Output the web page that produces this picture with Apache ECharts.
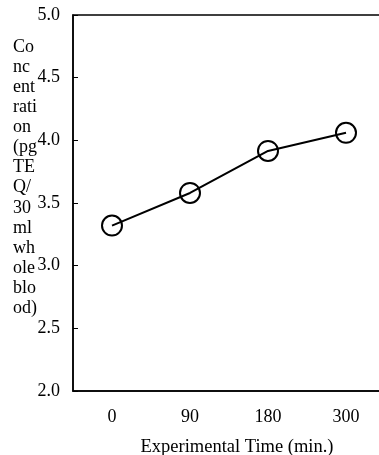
<!DOCTYPE html>
<html>
<head>
<meta charset="utf-8">
<script src="https://cdn.jsdelivr.net/npm/echarts@6/dist/echarts.min.js"></script>
<style>
  html, body { margin: 0; padding: 0; background: #fff; }
  #chart { width: 379px; height: 455px; }
</style>
</head>
<body>
<div id="chart"></div>
<script>
  const categories = ["0", "90", "180", "300"];
  const concentration = [3.32, 3.58, 3.915, 4.06];
  const yTitleLines = ["Co", "nc", "ent", "rati", "on", "(pg", "TE", "Q/", "30", "ml", "wh", "ole", "blo", "od)"];

  const font = "Liberation Serif";
  const chart = echarts.init(document.getElementById("chart"));

  chart.setOption({
    animation: false,
    title: {
      text: yTitleLines.join("\n"),
      left: 8,
      top: 32,
      textStyle: {
        fontFamily: font,
        fontSize: 18,
        fontWeight: "normal",
        color: "#000",
        lineHeight: 20.1
      }
    },
    grid: {
      left: 73,
      top: 15,
      width: 312,
      height: 376,
      outerBoundsMode: "none",
      show: true,
      borderColor: "#000",
      borderWidth: 1.5
    },
    xAxis: {
      type: "category",
      data: categories,
      name: "Experimental Time (min.)",
      nameLocation: "middle",
      nameGap: 47,
      nameTextStyle: { fontFamily: font, fontSize: 18.5, color: "#000", padding: [0, 0, 0, 16] },
      axisLine: { lineStyle: { color: "#000", width: 1.5 } },
      axisTick: { inside: true, length: 5, lineStyle: { color: "#000" } },
      axisLabel: { fontFamily: font, fontSize: 18, color: "#000", margin: 17 },
      splitLine: { show: false }
    },
    yAxis: {
      type: "value",
      min: 2.0,
      max: 5.0,
      interval: 0.5,
      axisLine: { show: true, lineStyle: { color: "#000", width: 1.5 } },
      axisTick: { show: true, inside: true, length: 5, lineStyle: { color: "#000" } },
      axisLabel: {
        fontFamily: font,
        fontSize: 18,
        color: "#000",
        margin: 13,
        formatter: v => v.toFixed(1)
      },
      splitLine: { show: false }
    },
    series: [
      {
        type: "line",
        data: concentration,
        symbol: "circle",
        symbolSize: 20,
        lineStyle: { color: "#000", width: 2 },
        itemStyle: { color: "none", borderColor: "#000", borderWidth: 2 }
      }
    ]
  });
</script>
</body>
</html>
